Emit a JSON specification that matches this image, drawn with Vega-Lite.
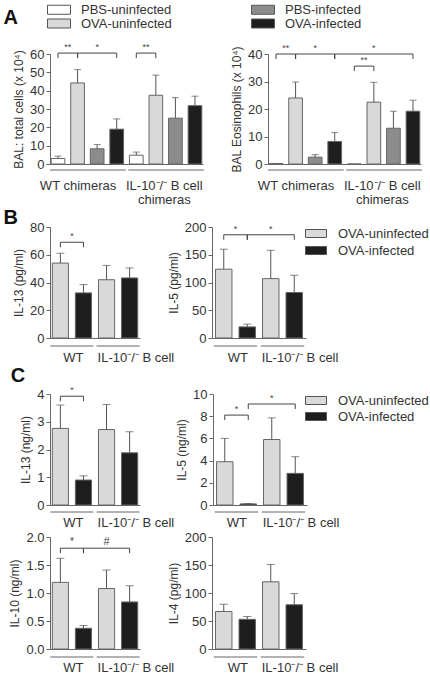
{
"$schema": "https://vega.github.io/schema/vega-lite/v6.json",
"padding": {"left": 3, "top": 3, "right": 0, "bottom": 2},
"datasets": {
"bars": [
{"panel":"A1","bar":"WT|PBS-uninfected","cond":"PBS-uninfected","value":3.0,"err":4.3},
{"panel":"A1","bar":"WT|OVA-uninfected","cond":"OVA-uninfected","value":44.2,"err":51.5},
{"panel":"A1","bar":"WT|PBS-infected","cond":"PBS-infected","value":8.3,"err":10.6},
{"panel":"A1","bar":"WT|OVA-infected","cond":"OVA-infected","value":19.0,"err":24.6},
{"panel":"A1","bar":"IL10|PBS-uninfected","cond":"PBS-uninfected","value":4.8,"err":6.5},
{"panel":"A1","bar":"IL10|OVA-uninfected","cond":"OVA-uninfected","value":37.5,"err":48.5},
{"panel":"A1","bar":"IL10|PBS-infected","cond":"PBS-infected","value":25.0,"err":36.2},
{"panel":"A1","bar":"IL10|OVA-infected","cond":"OVA-infected","value":31.8,"err":37.0},
{"panel":"A2","bar":"WT|PBS-uninfected","cond":"PBS-uninfected","value":0.2,"err":null},
{"panel":"A2","bar":"WT|OVA-uninfected","cond":"OVA-uninfected","value":24.0,"err":29.8},
{"panel":"A2","bar":"WT|PBS-infected","cond":"PBS-infected","value":2.5,"err":3.4},
{"panel":"A2","bar":"WT|OVA-infected","cond":"OVA-infected","value":8.2,"err":11.4},
{"panel":"A2","bar":"IL10|PBS-uninfected","cond":"PBS-uninfected","value":0,"err":null},
{"panel":"A2","bar":"IL10|OVA-uninfected","cond":"OVA-uninfected","value":22.5,"err":29.7},
{"panel":"A2","bar":"IL10|PBS-infected","cond":"PBS-infected","value":13.0,"err":19.2},
{"panel":"A2","bar":"IL10|OVA-infected","cond":"OVA-infected","value":19.2,"err":23.2},
{"panel":"B1","bar":"WT|OVA-uninfected","cond":"OVA-uninfected","value":54,"err":61},
{"panel":"B1","bar":"WT|OVA-infected","cond":"OVA-infected","value":32.5,"err":38.5},
{"panel":"B1","bar":"IL10|OVA-uninfected","cond":"OVA-uninfected","value":42,"err":52.3},
{"panel":"B1","bar":"IL10|OVA-infected","cond":"OVA-infected","value":43.3,"err":50.5},
{"panel":"B2","bar":"WT|OVA-uninfected","cond":"OVA-uninfected","value":124,"err":160},
{"panel":"B2","bar":"WT|OVA-infected","cond":"OVA-infected","value":20,"err":25},
{"panel":"B2","bar":"IL10|OVA-uninfected","cond":"OVA-uninfected","value":107,"err":158},
{"panel":"B2","bar":"IL10|OVA-infected","cond":"OVA-infected","value":82,"err":113},
{"panel":"C1a","bar":"WT|OVA-uninfected","cond":"OVA-uninfected","value":2.76,"err":3.6},
{"panel":"C1a","bar":"WT|OVA-infected","cond":"OVA-infected","value":0.9,"err":1.05},
{"panel":"C1a","bar":"IL10|OVA-uninfected","cond":"OVA-uninfected","value":2.72,"err":3.62},
{"panel":"C1a","bar":"IL10|OVA-infected","cond":"OVA-infected","value":1.88,"err":2.64},
{"panel":"C1b","bar":"WT|OVA-uninfected","cond":"OVA-uninfected","value":3.9,"err":6.0},
{"panel":"C1b","bar":"WT|OVA-infected","cond":"OVA-infected","value":0.1,"err":0.13},
{"panel":"C1b","bar":"IL10|OVA-uninfected","cond":"OVA-uninfected","value":5.9,"err":7.85},
{"panel":"C1b","bar":"IL10|OVA-infected","cond":"OVA-infected","value":2.85,"err":4.35},
{"panel":"C2a","bar":"WT|OVA-uninfected","cond":"OVA-uninfected","value":1.19,"err":1.62},
{"panel":"C2a","bar":"WT|OVA-infected","cond":"OVA-infected","value":0.37,"err":0.42},
{"panel":"C2a","bar":"IL10|OVA-uninfected","cond":"OVA-uninfected","value":1.08,"err":1.41},
{"panel":"C2a","bar":"IL10|OVA-infected","cond":"OVA-infected","value":0.84,"err":1.13},
{"panel":"C2b","bar":"WT|OVA-uninfected","cond":"OVA-uninfected","value":67,"err":80},
{"panel":"C2b","bar":"WT|OVA-infected","cond":"OVA-infected","value":53,"err":58},
{"panel":"C2b","bar":"IL10|OVA-uninfected","cond":"OVA-uninfected","value":120,"err":151},
{"panel":"C2b","bar":"IL10|OVA-infected","cond":"OVA-infected","value":79,"err":99}
],
"brackets": [
{"panel":"A1","from":"WT|PBS-uninfected","to":"WT|OVA-uninfected","level":60.5,"label":"**"},
{"panel":"A1","from":"WT|OVA-uninfected","to":"WT|OVA-infected","level":60.5,"label":"*"},
{"panel":"A1","from":"IL10|PBS-uninfected","to":"IL10|OVA-uninfected","level":60.5,"label":"**"},
{"panel":"A2","from":"WT|PBS-uninfected","to":"WT|OVA-uninfected","level":40,"label":"**"},
{"panel":"A2","from":"WT|OVA-uninfected","to":"WT|OVA-infected","level":40,"label":"*"},
{"panel":"A2","from":"WT|OVA-infected","to":"IL10|OVA-infected","level":40,"label":"*"},
{"panel":"A2","from":"IL10|PBS-uninfected","to":"IL10|OVA-uninfected","level":35.6,"label":"**"},
{"panel":"B1","from":"WT|OVA-uninfected","to":"WT|OVA-infected","level":69,"label":"*"},
{"panel":"B2","from":"WT|OVA-uninfected","to":"WT|OVA-infected","level":186,"label":"*"},
{"panel":"B2","from":"WT|OVA-infected","to":"IL10|OVA-infected","level":186,"label":"*"},
{"panel":"C1a","from":"WT|OVA-uninfected","to":"WT|OVA-infected","level":3.92,"label":"*"},
{"panel":"C1b","from":"WT|OVA-uninfected","to":"WT|OVA-infected","level":8.1,"label":"*"},
{"panel":"C1b","from":"WT|OVA-infected","to":"IL10|OVA-infected","level":9.1,"label":"*"},
{"panel":"C2a","from":"WT|OVA-uninfected","to":"WT|OVA-infected","level":1.8,"label":"*"},
{"panel":"C2a","from":"WT|OVA-infected","to":"IL10|OVA-infected","level":1.8,"label":"#"}
],
"groups": [
{"set":"A","grp":"WT","from":"WT|PBS-uninfected","to":"WT|OVA-infected","label":"WT chimeras"},
{"set":"A","grp":"IL10","from":"IL10|PBS-uninfected","to":"IL10|OVA-infected","label":["IL-10⁻/⁻ B cell","chimeras"]},
{"set":"BC","grp":"WT","from":"WT|OVA-uninfected","to":"WT|OVA-infected","label":"WT"},
{"set":"BC","grp":"IL10","from":"IL10|OVA-uninfected","to":"IL10|OVA-infected","label":"IL-10⁻/⁻ B cell"}
]
},
"vconcat": [
{
"title": {"text": "A", "dx": -9, "dy": 29},
"hconcat": [
{"width":153,"height":110,"layer":[
{"data":{"name":"bars"},"transform":[{"filter":"datum.panel==='A1'"}],"mark":{"type":"bar","stroke":"#666","strokeWidth":1},
"encoding":{"x":{"field":"bar","type":"nominal","scale":{"domain":["WT|PBS-uninfected","WT|OVA-uninfected","WT|PBS-infected","WT|OVA-infected","IL10|PBS-uninfected","IL10|OVA-uninfected","IL10|PBS-infected","IL10|OVA-infected"],"paddingInner":0.3,"paddingOuter":0.06},"axis":{"labels":false,"ticks":false,"title":null}},
"y":{"field":"value","type":"quantitative","scale":{"domain":[0,60]},"axis":{"values":[0,10,20,30,40,50,60],"tickCount":7,"title":"BAL: total cells (x 10⁴)"}},
"color":{"field":"cond","type":"nominal","scale":{"domain":["PBS-uninfected","PBS-infected","OVA-uninfected","OVA-infected"],"range":["#ffffff","#8c8c8c","#d9d9d9","#1e1e1e"]},
"legend":{"orient":"top","title":null,"columns":2,"columnPadding":77,"rowPadding":-3,"offset":23,"symbolType":"M-1.8,-0.9H2.8V0.9H-1.8Z","symbolSize":100,"symbolStrokeColor":"#555","symbolStrokeWidth":1,"symbolOpacity":1,"labelFontSize":13,"labelColor":"#333","labelOffset":18}}}},
{"data":{"name":"bars"},"transform":[{"filter":"datum.panel==='A1' && isValid(datum.err)"}],"mark":{"type":"rule","color":"#555"},
"encoding":{"x":{"field":"bar","type":"nominal"},"y":{"field":"value","type":"quantitative"},"y2":{"field":"err"}}},
{"data":{"name":"bars"},"transform":[{"filter":"datum.panel==='A1' && isValid(datum.err)"}],"mark":{"type":"tick","color":"#555","thickness":1,"size":7},
"encoding":{"x":{"field":"bar","type":"nominal"},"y":{"field":"err","type":"quantitative"}}},
{"data":{"name":"brackets"},"transform":[{"filter":"datum.panel==='A1'"}],"mark":{"type":"rule","color":"#444"},
"encoding":{"x":{"field":"from","type":"nominal"},"x2":{"field":"to"},"y":{"field":"level","type":"quantitative"}}},
{"data":{"name":"brackets"},"transform":[{"filter":"datum.panel==='A1'"}],"mark":{"type":"rule","color":"#444","y2Offset":5},
"encoding":{"x":{"field":"from","type":"nominal"},"y":{"field":"level","type":"quantitative"},"y2":{"field":"level"}}},
{"data":{"name":"brackets"},"transform":[{"filter":"datum.panel==='A1'"}],"mark":{"type":"rule","color":"#444","y2Offset":5},
"encoding":{"x":{"field":"to","type":"nominal"},"y":{"field":"level","type":"quantitative"},"y2":{"field":"level"}}},
{"data":{"name":"brackets"},"transform":[{"filter":"datum.panel==='A1' && indexof(['WT|PBS-uninfected','WT|OVA-uninfected','WT|PBS-infected','WT|OVA-infected','IL10|PBS-uninfected','IL10|OVA-uninfected','IL10|PBS-infected','IL10|OVA-infected'], datum.to) - indexof(['WT|PBS-uninfected','WT|OVA-uninfected','WT|PBS-infected','WT|OVA-infected','IL10|PBS-uninfected','IL10|OVA-uninfected','IL10|PBS-infected','IL10|OVA-infected'], datum.from) === 1"}],"mark":{"type":"text","baseline":"bottom","dy":-1,"dx":9.8,"fontSize":9,"color":"#444"},
"encoding":{"x":{"field":"from","type":"nominal"},"y":{"field":"level","type":"quantitative"},"text":{"field":"label"}}},
{"data":{"name":"brackets"},"transform":[{"filter":"datum.panel==='A1' && indexof(['WT|PBS-uninfected','WT|OVA-uninfected','WT|PBS-infected','WT|OVA-infected','IL10|PBS-uninfected','IL10|OVA-uninfected','IL10|PBS-infected','IL10|OVA-infected'], datum.to) - indexof(['WT|PBS-uninfected','WT|OVA-uninfected','WT|PBS-infected','WT|OVA-infected','IL10|PBS-uninfected','IL10|OVA-uninfected','IL10|PBS-infected','IL10|OVA-infected'], datum.from) === 2"}],"mark":{"type":"text","baseline":"bottom","dy":-1,"dx":19.6,"fontSize":9,"color":"#444"},
"encoding":{"x":{"field":"from","type":"nominal"},"y":{"field":"level","type":"quantitative"},"text":{"field":"label"}}},
{"data":{"name":"groups"},"transform":[{"filter":"datum.set==='A'"}],"mark":{"type":"rule","color":"#666","xOffset":-8,"x2Offset":9,"yOffset":6},
"encoding":{"x":{"field":"from","type":"nominal"},"x2":{"field":"to"},"y":{"datum":0,"type":"quantitative"}}},
{"data":{"name":"groups"},"transform":[{"filter":"datum.set==='A' && datum.grp==='WT'"}],"mark":{"type":"text","baseline":"top","yOffset":16,"dx":20,"fontSize":13,"lineHeight":14,"color":"#333"},
"encoding":{"x":{"field":"from","type":"nominal"},"y":{"datum":0,"type":"quantitative"},"text":{"field":"label"}}},
{"data":{"name":"groups"},"transform":[{"filter":"datum.set==='A' && datum.grp==='IL10'"}],"mark":{"type":"text","baseline":"top","yOffset":16,"dx":28,"fontSize":13,"lineHeight":14,"color":"#333"},
"encoding":{"x":{"field":"from","type":"nominal"},"y":{"datum":0,"type":"quantitative"},"text":{"field":"label"}}}
]},
{"width":153,"height":110,"layer":[
{"data":{"name":"bars"},"transform":[{"filter":"datum.panel==='A2'"}],"mark":{"type":"bar","stroke":"#666","strokeWidth":1},
"encoding":{"x":{"field":"bar","type":"nominal","scale":{"domain":["WT|PBS-uninfected","WT|OVA-uninfected","WT|PBS-infected","WT|OVA-infected","IL10|PBS-uninfected","IL10|OVA-uninfected","IL10|PBS-infected","IL10|OVA-infected"],"paddingInner":0.3,"paddingOuter":0.06},"axis":{"labels":false,"ticks":false,"title":null}},
"y":{"field":"value","type":"quantitative","scale":{"domain":[0,40]},"axis":{"values":[0,10,20,30,40],"tickCount":5,"title":"BAL Eosinophils (x 10⁴)"}},
"color":{"field":"cond","type":"nominal","scale":{"domain":["PBS-uninfected","PBS-infected","OVA-uninfected","OVA-infected"],"range":["#ffffff","#8c8c8c","#d9d9d9","#1e1e1e"]},"legend":null}}},
{"data":{"name":"bars"},"transform":[{"filter":"datum.panel==='A2' && isValid(datum.err)"}],"mark":{"type":"rule","color":"#555"},
"encoding":{"x":{"field":"bar","type":"nominal"},"y":{"field":"value","type":"quantitative"},"y2":{"field":"err"}}},
{"data":{"name":"bars"},"transform":[{"filter":"datum.panel==='A2' && isValid(datum.err)"}],"mark":{"type":"tick","color":"#555","thickness":1,"size":7},
"encoding":{"x":{"field":"bar","type":"nominal"},"y":{"field":"err","type":"quantitative"}}},
{"data":{"name":"brackets"},"transform":[{"filter":"datum.panel==='A2'"}],"mark":{"type":"rule","color":"#444"},
"encoding":{"x":{"field":"from","type":"nominal"},"x2":{"field":"to"},"y":{"field":"level","type":"quantitative"}}},
{"data":{"name":"brackets"},"transform":[{"filter":"datum.panel==='A2'"}],"mark":{"type":"rule","color":"#444","y2Offset":5},
"encoding":{"x":{"field":"from","type":"nominal"},"y":{"field":"level","type":"quantitative"},"y2":{"field":"level"}}},
{"data":{"name":"brackets"},"transform":[{"filter":"datum.panel==='A2'"}],"mark":{"type":"rule","color":"#444","y2Offset":5},
"encoding":{"x":{"field":"to","type":"nominal"},"y":{"field":"level","type":"quantitative"},"y2":{"field":"level"}}},
{"data":{"name":"brackets"},"transform":[{"filter":"datum.panel==='A2' && indexof(['WT|PBS-uninfected','WT|OVA-uninfected','WT|PBS-infected','WT|OVA-infected','IL10|PBS-uninfected','IL10|OVA-uninfected','IL10|PBS-infected','IL10|OVA-infected'], datum.to) - indexof(['WT|PBS-uninfected','WT|OVA-uninfected','WT|PBS-infected','WT|OVA-infected','IL10|PBS-uninfected','IL10|OVA-uninfected','IL10|PBS-infected','IL10|OVA-infected'], datum.from) === 1"}],"mark":{"type":"text","baseline":"bottom","dy":-1,"dx":9.8,"fontSize":9,"color":"#444"},
"encoding":{"x":{"field":"from","type":"nominal"},"y":{"field":"level","type":"quantitative"},"text":{"field":"label"}}},
{"data":{"name":"brackets"},"transform":[{"filter":"datum.panel==='A2' && indexof(['WT|PBS-uninfected','WT|OVA-uninfected','WT|PBS-infected','WT|OVA-infected','IL10|PBS-uninfected','IL10|OVA-uninfected','IL10|PBS-infected','IL10|OVA-infected'], datum.to) - indexof(['WT|PBS-uninfected','WT|OVA-uninfected','WT|PBS-infected','WT|OVA-infected','IL10|PBS-uninfected','IL10|OVA-uninfected','IL10|PBS-infected','IL10|OVA-infected'], datum.from) === 2"}],"mark":{"type":"text","baseline":"bottom","dy":-1,"dx":19.6,"fontSize":9,"color":"#444"},
"encoding":{"x":{"field":"from","type":"nominal"},"y":{"field":"level","type":"quantitative"},"text":{"field":"label"}}},
{"data":{"name":"brackets"},"transform":[{"filter":"datum.panel==='A2' && indexof(['WT|PBS-uninfected','WT|OVA-uninfected','WT|PBS-infected','WT|OVA-infected','IL10|PBS-uninfected','IL10|OVA-uninfected','IL10|PBS-infected','IL10|OVA-infected'], datum.to) - indexof(['WT|PBS-uninfected','WT|OVA-uninfected','WT|PBS-infected','WT|OVA-infected','IL10|PBS-uninfected','IL10|OVA-uninfected','IL10|PBS-infected','IL10|OVA-infected'], datum.from) === 4"}],"mark":{"type":"text","baseline":"bottom","dy":-1,"dx":39.1,"fontSize":9,"color":"#444"},
"encoding":{"x":{"field":"from","type":"nominal"},"y":{"field":"level","type":"quantitative"},"text":{"field":"label"}}},
{"data":{"name":"groups"},"transform":[{"filter":"datum.set==='A'"}],"mark":{"type":"rule","color":"#666","xOffset":-8,"x2Offset":9,"yOffset":6},
"encoding":{"x":{"field":"from","type":"nominal"},"x2":{"field":"to"},"y":{"datum":0,"type":"quantitative"}}},
{"data":{"name":"groups"},"transform":[{"filter":"datum.set==='A' && datum.grp==='WT'"}],"mark":{"type":"text","baseline":"top","yOffset":16,"dx":20,"fontSize":13,"lineHeight":14,"color":"#333"},
"encoding":{"x":{"field":"from","type":"nominal"},"y":{"datum":0,"type":"quantitative"},"text":{"field":"label"}}},
{"data":{"name":"groups"},"transform":[{"filter":"datum.set==='A' && datum.grp==='IL10'"}],"mark":{"type":"text","baseline":"top","yOffset":16,"dx":28,"fontSize":13,"lineHeight":14,"color":"#333"},
"encoding":{"x":{"field":"from","type":"nominal"},"y":{"datum":0,"type":"quantitative"},"text":{"field":"label"}}}
]}
],
"spacing": 65, "bounds": "flush",
"resolve": {"scale": {"x": "independent", "y": "independent", "color": "independent"}}
},
{
"title": {"text": "B", "dx": -9, "dy": 11},
"hconcat": [
{"width":90,"height":111,"layer":[
{"data":{"name":"bars"},"transform":[{"filter":"datum.panel==='B1'"}],"mark":{"type":"bar","stroke":"#666","strokeWidth":1},
"encoding":{"x":{"field":"bar","type":"nominal","scale":{"domain":["WT|OVA-uninfected","WT|OVA-infected","IL10|OVA-uninfected","IL10|OVA-infected"],"paddingInner":0.3,"paddingOuter":0.1},"axis":{"labels":false,"ticks":false,"title":null}},
"y":{"field":"value","type":"quantitative","scale":{"domain":[0,80]},"axis":{"values":[0,20,40,60,80],"tickCount":5,"title":"IL-13 (pg/ml)"}},
"color":{"field":"cond","type":"nominal","scale":{"domain":["OVA-uninfected","OVA-infected"],"range":["#d9d9d9","#1e1e1e"]},"legend":null}}},
{"data":{"name":"bars"},"transform":[{"filter":"datum.panel==='B1' && isValid(datum.err)"}],"mark":{"type":"rule","color":"#555"},
"encoding":{"x":{"field":"bar","type":"nominal"},"y":{"field":"value","type":"quantitative"},"y2":{"field":"err"}}},
{"data":{"name":"bars"},"transform":[{"filter":"datum.panel==='B1' && isValid(datum.err)"}],"mark":{"type":"tick","color":"#555","thickness":1,"size":8},
"encoding":{"x":{"field":"bar","type":"nominal"},"y":{"field":"err","type":"quantitative"}}},
{"data":{"name":"brackets"},"transform":[{"filter":"datum.panel==='B1'"}],"mark":{"type":"rule","color":"#444"},
"encoding":{"x":{"field":"from","type":"nominal"},"x2":{"field":"to"},"y":{"field":"level","type":"quantitative"}}},
{"data":{"name":"brackets"},"transform":[{"filter":"datum.panel==='B1'"}],"mark":{"type":"rule","color":"#444","y2Offset":5},
"encoding":{"x":{"field":"from","type":"nominal"},"y":{"field":"level","type":"quantitative"},"y2":{"field":"level"}}},
{"data":{"name":"brackets"},"transform":[{"filter":"datum.panel==='B1'"}],"mark":{"type":"rule","color":"#444","y2Offset":5},
"encoding":{"x":{"field":"to","type":"nominal"},"y":{"field":"level","type":"quantitative"},"y2":{"field":"level"}}},
{"data":{"name":"brackets"},"transform":[{"filter":"datum.panel==='B1' && indexof(['WT|OVA-uninfected','WT|OVA-infected','IL10|OVA-uninfected','IL10|OVA-infected'], datum.to) - indexof(['WT|OVA-uninfected','WT|OVA-infected','IL10|OVA-uninfected','IL10|OVA-infected'], datum.from) === 1"}],"mark":{"type":"text","baseline":"bottom","dy":-1,"dx":11.5,"fontSize":9,"color":"#444"},
"encoding":{"x":{"field":"from","type":"nominal"},"y":{"field":"level","type":"quantitative"},"text":{"field":"label"}}},
{"data":{"name":"groups"},"transform":[{"filter":"datum.set==='BC'"}],"mark":{"type":"rule","color":"#666","xOffset":-10,"x2Offset":10,"yOffset":8},
"encoding":{"x":{"field":"from","type":"nominal"},"x2":{"field":"to"},"y":{"datum":0,"type":"quantitative"}}},
{"data":{"name":"groups"},"transform":[{"filter":"datum.set==='BC' && datum.grp==='WT'"}],"mark":{"type":"text","baseline":"top","yOffset":14,"dx":13,"fontSize":13,"color":"#333"},
"encoding":{"x":{"field":"from","type":"nominal"},"y":{"datum":0,"type":"quantitative"},"text":{"field":"label"}}},
{"data":{"name":"groups"},"transform":[{"filter":"datum.set==='BC' && datum.grp==='IL10'"}],"mark":{"type":"text","baseline":"top","align":"left","xOffset":-9,"yOffset":14,"fontSize":13,"color":"#333"},
"encoding":{"x":{"field":"from","type":"nominal"},"y":{"datum":0,"type":"quantitative"},"text":{"field":"label"}}}
]},
{"width":94,"height":111,"layer":[
{"data":{"name":"bars"},"transform":[{"filter":"datum.panel==='B2'"}],"mark":{"type":"bar","stroke":"#666","strokeWidth":1},
"encoding":{"x":{"field":"bar","type":"nominal","scale":{"domain":["WT|OVA-uninfected","WT|OVA-infected","IL10|OVA-uninfected","IL10|OVA-infected"],"paddingInner":0.3,"paddingOuter":0.15},"axis":{"labels":false,"ticks":false,"title":null}},
"y":{"field":"value","type":"quantitative","scale":{"domain":[0,200]},"axis":{"values":[0,50,100,150,200],"tickCount":5,"title":"IL-5 (pg/ml)"}},
"color":{"field":"cond","type":"nominal","scale":{"domain":["OVA-uninfected","OVA-infected"],"range":["#d9d9d9","#1e1e1e"]},
"legend":{"orient":"right","title":null,"offset":2,"rowPadding":3,"symbolType":"M-1.8,-0.8H2.4V0.8H-1.8Z","symbolSize":100,"symbolStrokeColor":"#555","symbolStrokeWidth":1,"symbolOpacity":1,"labelFontSize":13,"labelColor":"#333","labelOffset":17}}}},
{"data":{"name":"bars"},"transform":[{"filter":"datum.panel==='B2' && isValid(datum.err)"}],"mark":{"type":"rule","color":"#555"},
"encoding":{"x":{"field":"bar","type":"nominal"},"y":{"field":"value","type":"quantitative"},"y2":{"field":"err"}}},
{"data":{"name":"bars"},"transform":[{"filter":"datum.panel==='B2' && isValid(datum.err)"}],"mark":{"type":"tick","color":"#555","thickness":1,"size":8},
"encoding":{"x":{"field":"bar","type":"nominal"},"y":{"field":"err","type":"quantitative"}}},
{"data":{"name":"brackets"},"transform":[{"filter":"datum.panel==='B2'"}],"mark":{"type":"rule","color":"#444"},
"encoding":{"x":{"field":"from","type":"nominal"},"x2":{"field":"to"},"y":{"field":"level","type":"quantitative"}}},
{"data":{"name":"brackets"},"transform":[{"filter":"datum.panel==='B2'"}],"mark":{"type":"rule","color":"#444","y2Offset":5},
"encoding":{"x":{"field":"from","type":"nominal"},"y":{"field":"level","type":"quantitative"},"y2":{"field":"level"}}},
{"data":{"name":"brackets"},"transform":[{"filter":"datum.panel==='B2'"}],"mark":{"type":"rule","color":"#444","y2Offset":5},
"encoding":{"x":{"field":"to","type":"nominal"},"y":{"field":"level","type":"quantitative"},"y2":{"field":"level"}}},
{"data":{"name":"brackets"},"transform":[{"filter":"datum.panel==='B2' && indexof(['WT|OVA-uninfected','WT|OVA-infected','IL10|OVA-uninfected','IL10|OVA-infected'], datum.to) - indexof(['WT|OVA-uninfected','WT|OVA-infected','IL10|OVA-uninfected','IL10|OVA-infected'], datum.from) === 1"}],"mark":{"type":"text","baseline":"bottom","dy":-1,"dx":11.75,"fontSize":9,"color":"#444"},
"encoding":{"x":{"field":"from","type":"nominal"},"y":{"field":"level","type":"quantitative"},"text":{"field":"label"}}},
{"data":{"name":"brackets"},"transform":[{"filter":"datum.panel==='B2' && indexof(['WT|OVA-uninfected','WT|OVA-infected','IL10|OVA-uninfected','IL10|OVA-infected'], datum.to) - indexof(['WT|OVA-uninfected','WT|OVA-infected','IL10|OVA-uninfected','IL10|OVA-infected'], datum.from) === 2"}],"mark":{"type":"text","baseline":"bottom","dy":-1,"dx":23.5,"fontSize":9,"color":"#444"},
"encoding":{"x":{"field":"from","type":"nominal"},"y":{"field":"level","type":"quantitative"},"text":{"field":"label"}}},
{"data":{"name":"groups"},"transform":[{"filter":"datum.set==='BC'"}],"mark":{"type":"rule","color":"#666","xOffset":-10,"x2Offset":10,"yOffset":8},
"encoding":{"x":{"field":"from","type":"nominal"},"x2":{"field":"to"},"y":{"datum":0,"type":"quantitative"}}},
{"data":{"name":"groups"},"transform":[{"filter":"datum.set==='BC' && datum.grp==='WT'"}],"mark":{"type":"text","baseline":"top","yOffset":14,"dx":14,"fontSize":13,"color":"#333"},
"encoding":{"x":{"field":"from","type":"nominal"},"y":{"datum":0,"type":"quantitative"},"text":{"field":"label"}}},
{"data":{"name":"groups"},"transform":[{"filter":"datum.set==='BC' && datum.grp==='IL10'"}],"mark":{"type":"text","baseline":"top","align":"left","xOffset":-9,"yOffset":14,"fontSize":13,"color":"#333"},
"encoding":{"x":{"field":"from","type":"nominal"},"y":{"datum":0,"type":"quantitative"},"text":{"field":"label"}}}
]}
],
"spacing": 72, "bounds": "flush",
"resolve": {"scale": {"x": "independent", "y": "independent", "color": "independent"}}
},
{
"title": {"text": "C", "dx": -9, "dy": 4},
"hconcat": [
{"width":90,"height":111,"layer":[
{"data":{"name":"bars"},"transform":[{"filter":"datum.panel==='C1a'"}],"mark":{"type":"bar","stroke":"#666","strokeWidth":1},
"encoding":{"x":{"field":"bar","type":"nominal","scale":{"domain":["WT|OVA-uninfected","WT|OVA-infected","IL10|OVA-uninfected","IL10|OVA-infected"],"paddingInner":0.3,"paddingOuter":0.1},"axis":{"labels":false,"ticks":false,"title":null}},
"y":{"field":"value","type":"quantitative","scale":{"domain":[0,4]},"axis":{"values":[0,1,2,3,4],"tickCount":5,"title":"IL-13 (ng/ml)"}},
"color":{"field":"cond","type":"nominal","scale":{"domain":["OVA-uninfected","OVA-infected"],"range":["#d9d9d9","#1e1e1e"]},"legend":null}}},
{"data":{"name":"bars"},"transform":[{"filter":"datum.panel==='C1a' && isValid(datum.err)"}],"mark":{"type":"rule","color":"#555"},
"encoding":{"x":{"field":"bar","type":"nominal"},"y":{"field":"value","type":"quantitative"},"y2":{"field":"err"}}},
{"data":{"name":"bars"},"transform":[{"filter":"datum.panel==='C1a' && isValid(datum.err)"}],"mark":{"type":"tick","color":"#555","thickness":1,"size":8},
"encoding":{"x":{"field":"bar","type":"nominal"},"y":{"field":"err","type":"quantitative"}}},
{"data":{"name":"brackets"},"transform":[{"filter":"datum.panel==='C1a'"}],"mark":{"type":"rule","color":"#444"},
"encoding":{"x":{"field":"from","type":"nominal"},"x2":{"field":"to"},"y":{"field":"level","type":"quantitative"}}},
{"data":{"name":"brackets"},"transform":[{"filter":"datum.panel==='C1a'"}],"mark":{"type":"rule","color":"#444","y2Offset":5},
"encoding":{"x":{"field":"from","type":"nominal"},"y":{"field":"level","type":"quantitative"},"y2":{"field":"level"}}},
{"data":{"name":"brackets"},"transform":[{"filter":"datum.panel==='C1a'"}],"mark":{"type":"rule","color":"#444","y2Offset":5},
"encoding":{"x":{"field":"to","type":"nominal"},"y":{"field":"level","type":"quantitative"},"y2":{"field":"level"}}},
{"data":{"name":"brackets"},"transform":[{"filter":"datum.panel==='C1a' && indexof(['WT|OVA-uninfected','WT|OVA-infected','IL10|OVA-uninfected','IL10|OVA-infected'], datum.to) - indexof(['WT|OVA-uninfected','WT|OVA-infected','IL10|OVA-uninfected','IL10|OVA-infected'], datum.from) === 1"}],"mark":{"type":"text","baseline":"bottom","dy":-1,"dx":11.5,"fontSize":9,"color":"#444"},
"encoding":{"x":{"field":"from","type":"nominal"},"y":{"field":"level","type":"quantitative"},"text":{"field":"label"}}},
{"data":{"name":"groups"},"transform":[{"filter":"datum.set==='BC'"}],"mark":{"type":"rule","color":"#666","xOffset":-10,"x2Offset":10,"yOffset":7},
"encoding":{"x":{"field":"from","type":"nominal"},"x2":{"field":"to"},"y":{"datum":0,"type":"quantitative"}}},
{"data":{"name":"groups"},"transform":[{"filter":"datum.set==='BC' && datum.grp==='WT'"}],"mark":{"type":"text","baseline":"top","yOffset":12,"dx":13,"fontSize":13,"color":"#333"},
"encoding":{"x":{"field":"from","type":"nominal"},"y":{"datum":0,"type":"quantitative"},"text":{"field":"label"}}},
{"data":{"name":"groups"},"transform":[{"filter":"datum.set==='BC' && datum.grp==='IL10'"}],"mark":{"type":"text","baseline":"top","align":"left","xOffset":-9,"yOffset":12,"fontSize":13,"color":"#333"},
"encoding":{"x":{"field":"from","type":"nominal"},"y":{"datum":0,"type":"quantitative"},"text":{"field":"label"}}}
]},
{"width":94,"height":111,"layer":[
{"data":{"name":"bars"},"transform":[{"filter":"datum.panel==='C1b'"}],"mark":{"type":"bar","stroke":"#666","strokeWidth":1},
"encoding":{"x":{"field":"bar","type":"nominal","scale":{"domain":["WT|OVA-uninfected","WT|OVA-infected","IL10|OVA-uninfected","IL10|OVA-infected"],"paddingInner":0.3,"paddingOuter":0.15},"axis":{"labels":false,"ticks":false,"title":null}},
"y":{"field":"value","type":"quantitative","scale":{"domain":[0,10]},"axis":{"values":[0,2,4,6,8,10],"tickCount":6,"title":"IL-5 (ng/ml)"}},
"color":{"field":"cond","type":"nominal","scale":{"domain":["OVA-uninfected","OVA-infected"],"range":["#d9d9d9","#1e1e1e"]},
"legend":{"orient":"right","title":null,"offset":1,"rowPadding":2,"symbolType":"M-1.8,-0.8H2.4V0.8H-1.8Z","symbolSize":100,"symbolStrokeColor":"#555","symbolStrokeWidth":1,"symbolOpacity":1,"labelFontSize":13,"labelColor":"#333","labelOffset":17}}}},
{"data":{"name":"bars"},"transform":[{"filter":"datum.panel==='C1b' && isValid(datum.err)"}],"mark":{"type":"rule","color":"#555"},
"encoding":{"x":{"field":"bar","type":"nominal"},"y":{"field":"value","type":"quantitative"},"y2":{"field":"err"}}},
{"data":{"name":"bars"},"transform":[{"filter":"datum.panel==='C1b' && isValid(datum.err)"}],"mark":{"type":"tick","color":"#555","thickness":1,"size":8},
"encoding":{"x":{"field":"bar","type":"nominal"},"y":{"field":"err","type":"quantitative"}}},
{"data":{"name":"brackets"},"transform":[{"filter":"datum.panel==='C1b'"}],"mark":{"type":"rule","color":"#444"},
"encoding":{"x":{"field":"from","type":"nominal"},"x2":{"field":"to"},"y":{"field":"level","type":"quantitative"}}},
{"data":{"name":"brackets"},"transform":[{"filter":"datum.panel==='C1b'"}],"mark":{"type":"rule","color":"#444","y2Offset":5},
"encoding":{"x":{"field":"from","type":"nominal"},"y":{"field":"level","type":"quantitative"},"y2":{"field":"level"}}},
{"data":{"name":"brackets"},"transform":[{"filter":"datum.panel==='C1b'"}],"mark":{"type":"rule","color":"#444","y2Offset":5},
"encoding":{"x":{"field":"to","type":"nominal"},"y":{"field":"level","type":"quantitative"},"y2":{"field":"level"}}},
{"data":{"name":"brackets"},"transform":[{"filter":"datum.panel==='C1b' && indexof(['WT|OVA-uninfected','WT|OVA-infected','IL10|OVA-uninfected','IL10|OVA-infected'], datum.to) - indexof(['WT|OVA-uninfected','WT|OVA-infected','IL10|OVA-uninfected','IL10|OVA-infected'], datum.from) === 1"}],"mark":{"type":"text","baseline":"bottom","dy":-1,"dx":11.75,"fontSize":9,"color":"#444"},
"encoding":{"x":{"field":"from","type":"nominal"},"y":{"field":"level","type":"quantitative"},"text":{"field":"label"}}},
{"data":{"name":"brackets"},"transform":[{"filter":"datum.panel==='C1b' && indexof(['WT|OVA-uninfected','WT|OVA-infected','IL10|OVA-uninfected','IL10|OVA-infected'], datum.to) - indexof(['WT|OVA-uninfected','WT|OVA-infected','IL10|OVA-uninfected','IL10|OVA-infected'], datum.from) === 2"}],"mark":{"type":"text","baseline":"bottom","dy":-1,"dx":23.5,"fontSize":9,"color":"#444"},
"encoding":{"x":{"field":"from","type":"nominal"},"y":{"field":"level","type":"quantitative"},"text":{"field":"label"}}},
{"data":{"name":"groups"},"transform":[{"filter":"datum.set==='BC'"}],"mark":{"type":"rule","color":"#666","xOffset":-10,"x2Offset":10,"yOffset":7},
"encoding":{"x":{"field":"from","type":"nominal"},"x2":{"field":"to"},"y":{"datum":0,"type":"quantitative"}}},
{"data":{"name":"groups"},"transform":[{"filter":"datum.set==='BC' && datum.grp==='WT'"}],"mark":{"type":"text","baseline":"top","yOffset":12,"dx":12,"fontSize":13,"color":"#333"},
"encoding":{"x":{"field":"from","type":"nominal"},"y":{"datum":0,"type":"quantitative"},"text":{"field":"label"}}},
{"data":{"name":"groups"},"transform":[{"filter":"datum.set==='BC' && datum.grp==='IL10'"}],"mark":{"type":"text","baseline":"top","align":"left","xOffset":-9,"yOffset":12,"fontSize":13,"color":"#333"},
"encoding":{"x":{"field":"from","type":"nominal"},"y":{"datum":0,"type":"quantitative"},"text":{"field":"label"}}}
]}
],
"spacing": 73, "bounds": "flush",
"resolve": {"scale": {"x": "independent", "y": "independent", "color": "independent"}}
},
{
"hconcat": [
{"width":90,"height":112,"layer":[
{"data":{"name":"bars"},"transform":[{"filter":"datum.panel==='C2a'"}],"mark":{"type":"bar","stroke":"#666","strokeWidth":1},
"encoding":{"x":{"field":"bar","type":"nominal","scale":{"domain":["WT|OVA-uninfected","WT|OVA-infected","IL10|OVA-uninfected","IL10|OVA-infected"],"paddingInner":0.3,"paddingOuter":0.1},"axis":{"labels":false,"ticks":false,"title":null}},
"y":{"field":"value","type":"quantitative","scale":{"domain":[0,2]},"axis":{"values":[0,0.5,1,1.5,2],"tickCount":5,"format":".1f","title":"IL-10 (ng/ml)"}},
"color":{"field":"cond","type":"nominal","scale":{"domain":["OVA-uninfected","OVA-infected"],"range":["#d9d9d9","#1e1e1e"]},"legend":null}}},
{"data":{"name":"bars"},"transform":[{"filter":"datum.panel==='C2a' && isValid(datum.err)"}],"mark":{"type":"rule","color":"#555"},
"encoding":{"x":{"field":"bar","type":"nominal"},"y":{"field":"value","type":"quantitative"},"y2":{"field":"err"}}},
{"data":{"name":"bars"},"transform":[{"filter":"datum.panel==='C2a' && isValid(datum.err)"}],"mark":{"type":"tick","color":"#555","thickness":1,"size":8},
"encoding":{"x":{"field":"bar","type":"nominal"},"y":{"field":"err","type":"quantitative"}}},
{"data":{"name":"brackets"},"transform":[{"filter":"datum.panel==='C2a'"}],"mark":{"type":"rule","color":"#444"},
"encoding":{"x":{"field":"from","type":"nominal"},"x2":{"field":"to"},"y":{"field":"level","type":"quantitative"}}},
{"data":{"name":"brackets"},"transform":[{"filter":"datum.panel==='C2a'"}],"mark":{"type":"rule","color":"#444","y2Offset":5},
"encoding":{"x":{"field":"from","type":"nominal"},"y":{"field":"level","type":"quantitative"},"y2":{"field":"level"}}},
{"data":{"name":"brackets"},"transform":[{"filter":"datum.panel==='C2a'"}],"mark":{"type":"rule","color":"#444","y2Offset":5},
"encoding":{"x":{"field":"to","type":"nominal"},"y":{"field":"level","type":"quantitative"},"y2":{"field":"level"}}},
{"data":{"name":"brackets"},"transform":[{"filter":"datum.panel==='C2a' && indexof(['WT|OVA-uninfected','WT|OVA-infected','IL10|OVA-uninfected','IL10|OVA-infected'], datum.to) - indexof(['WT|OVA-uninfected','WT|OVA-infected','IL10|OVA-uninfected','IL10|OVA-infected'], datum.from) === 1"}],"mark":{"type":"text","baseline":"bottom","dy":-1,"dx":11.5,"fontSize":10,"color":"#444"},
"encoding":{"x":{"field":"from","type":"nominal"},"y":{"field":"level","type":"quantitative"},"text":{"field":"label"}}},
{"data":{"name":"brackets"},"transform":[{"filter":"datum.panel==='C2a' && indexof(['WT|OVA-uninfected','WT|OVA-infected','IL10|OVA-uninfected','IL10|OVA-infected'], datum.to) - indexof(['WT|OVA-uninfected','WT|OVA-infected','IL10|OVA-uninfected','IL10|OVA-infected'], datum.from) === 2"}],"mark":{"type":"text","baseline":"bottom","dy":-1,"dx":23.1,"fontSize":11,"color":"#444"},
"encoding":{"x":{"field":"from","type":"nominal"},"y":{"field":"level","type":"quantitative"},"text":{"field":"label"}}},
{"data":{"name":"groups"},"transform":[{"filter":"datum.set==='BC'"}],"mark":{"type":"rule","color":"#666","xOffset":-10,"x2Offset":10,"yOffset":8},
"encoding":{"x":{"field":"from","type":"nominal"},"x2":{"field":"to"},"y":{"datum":0,"type":"quantitative"}}},
{"data":{"name":"groups"},"transform":[{"filter":"datum.set==='BC' && datum.grp==='WT'"}],"mark":{"type":"text","baseline":"top","yOffset":13,"dx":13,"fontSize":13,"color":"#333"},
"encoding":{"x":{"field":"from","type":"nominal"},"y":{"datum":0,"type":"quantitative"},"text":{"field":"label"}}},
{"data":{"name":"groups"},"transform":[{"filter":"datum.set==='BC' && datum.grp==='IL10'"}],"mark":{"type":"text","baseline":"top","align":"left","xOffset":-9,"yOffset":13,"fontSize":13,"color":"#333"},
"encoding":{"x":{"field":"from","type":"nominal"},"y":{"datum":0,"type":"quantitative"},"text":{"field":"label"}}}
]},
{"width":94,"height":112,"layer":[
{"data":{"name":"bars"},"transform":[{"filter":"datum.panel==='C2b'"}],"mark":{"type":"bar","stroke":"#666","strokeWidth":1},
"encoding":{"x":{"field":"bar","type":"nominal","scale":{"domain":["WT|OVA-uninfected","WT|OVA-infected","IL10|OVA-uninfected","IL10|OVA-infected"],"paddingInner":0.3,"paddingOuter":0.15},"axis":{"labels":false,"ticks":false,"title":null}},
"y":{"field":"value","type":"quantitative","scale":{"domain":[0,200]},"axis":{"values":[0,50,100,150,200],"tickCount":5,"title":"IL-4 (pg/ml)"}},
"color":{"field":"cond","type":"nominal","scale":{"domain":["OVA-uninfected","OVA-infected"],"range":["#d9d9d9","#1e1e1e"]},"legend":null}}},
{"data":{"name":"bars"},"transform":[{"filter":"datum.panel==='C2b' && isValid(datum.err)"}],"mark":{"type":"rule","color":"#555"},
"encoding":{"x":{"field":"bar","type":"nominal"},"y":{"field":"value","type":"quantitative"},"y2":{"field":"err"}}},
{"data":{"name":"bars"},"transform":[{"filter":"datum.panel==='C2b' && isValid(datum.err)"}],"mark":{"type":"tick","color":"#555","thickness":1,"size":8},
"encoding":{"x":{"field":"bar","type":"nominal"},"y":{"field":"err","type":"quantitative"}}},
{"data":{"name":"groups"},"transform":[{"filter":"datum.set==='BC'"}],"mark":{"type":"rule","color":"#666","xOffset":-10,"x2Offset":10,"yOffset":8},
"encoding":{"x":{"field":"from","type":"nominal"},"x2":{"field":"to"},"y":{"datum":0,"type":"quantitative"}}},
{"data":{"name":"groups"},"transform":[{"filter":"datum.set==='BC' && datum.grp==='WT'"}],"mark":{"type":"text","baseline":"top","yOffset":13,"dx":14,"fontSize":13,"color":"#333"},
"encoding":{"x":{"field":"from","type":"nominal"},"y":{"datum":0,"type":"quantitative"},"text":{"field":"label"}}},
{"data":{"name":"groups"},"transform":[{"filter":"datum.set==='BC' && datum.grp==='IL10'"}],"mark":{"type":"text","baseline":"top","align":"left","xOffset":-9,"yOffset":13,"fontSize":13,"color":"#333"},
"encoding":{"x":{"field":"from","type":"nominal"},"y":{"datum":0,"type":"quantitative"},"text":{"field":"label"}}}
]}
],
"spacing": 72, "bounds": "flush",
"resolve": {"scale": {"x": "independent", "y": "independent", "color": "independent"}}
}
],
"spacing": 1,
"bounds": "full",
"resolve": {"scale": {"x": "independent", "y": "independent", "color": "independent"}},
"config": {
"font": "Liberation Sans",
"view": {"stroke": null},
"axis": {"grid": false, "domainColor": "#666", "tickColor": "#666", "tickSize": 4, "labelFontSize": 13, "labelColor": "#333", "labelPadding": 2, "titleFontSize": 12, "titleFontWeight": "normal", "titleColor": "#333", "titlePadding": 4},
"title": {"anchor": "start", "frame": "bounds", "fontSize": 20, "fontWeight": "bold", "color": "#111", "offset": 0}
}
}
